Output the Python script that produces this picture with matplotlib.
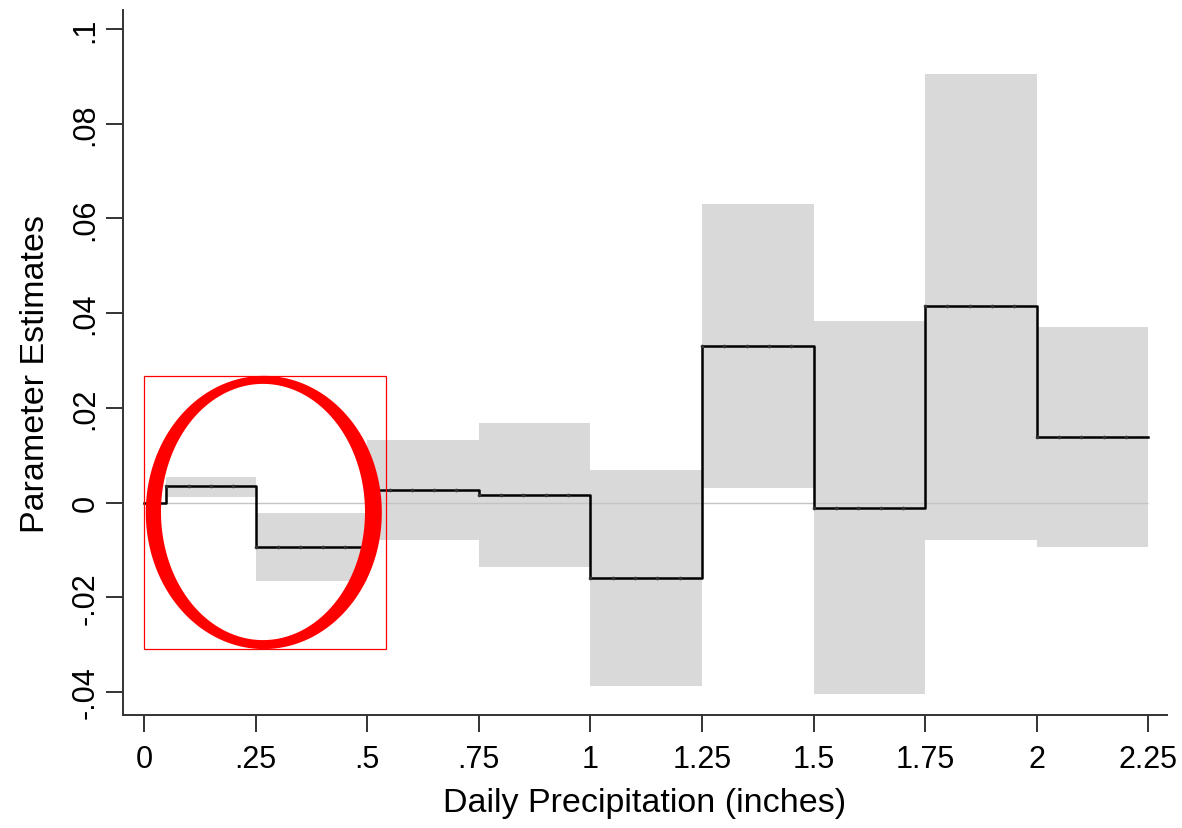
import matplotlib
matplotlib.use('Agg')
import numpy as np
import matplotlib.pyplot as plt
from matplotlib.path import Path
from matplotlib.patches import PathPatch, Rectangle

plt.rcParams['font.family'] = ['Liberation Sans', 'DejaVu Sans']

# bin edges (inches) and estimates
bin_lo = [0.05, 0.25, 0.50, 0.75, 1.00, 1.25, 1.50, 1.75, 2.00]
bin_hi = [0.25, 0.50, 0.75, 1.00, 1.25, 1.50, 1.75, 2.00, 2.25]
estimate = [0.0034, -0.0094, 0.0027, 0.0015, -0.0160, 0.0331, -0.0011, 0.0414, 0.0138]
ci_upper = [0.0053, -0.0022, 0.0132, 0.0167, 0.0068, 0.0630, 0.0384, 0.0905, 0.0371]
ci_lower = [0.0012, -0.0166, -0.0080, -0.0137, -0.0387, 0.0031, -0.0404, -0.0079, -0.0094]

xticks = [0, 0.25, 0.5, 0.75, 1, 1.25, 1.5, 1.75, 2, 2.25]
xticklabels = ['0', '.25', '.5', '.75', '1', '1.25', '1.5', '1.75', '2', '2.25']
yticks = [-0.04, -0.02, 0, 0.02, 0.04, 0.06, 0.08, 0.1]
yticklabels = ['-.04', '-.02', '0', '.02', '.04', '.06', '.08', '.1']

fig = plt.figure(figsize=(11.82, 8.29), dpi=100)
ax = fig.add_axes([0.1038, 0.1367, 0.9873 - 0.1038, 0.9867 - 0.1367])

# confidence bands
for lo, hi, l, u in zip(bin_lo, bin_hi, ci_lower, ci_upper):
    ax.fill_between([lo, hi], [l, l], [u, u], color='#d9d9d9', linewidth=0, zorder=1)

ax.hlines(0, 0, bin_hi[-1], color='#c4c4c4', linewidth=1.0, zorder=2)

# step line of estimates on a 0.05 grid, starting at zero
grid = np.round(np.arange(0, 2.2501, 0.05), 2)
vals = np.zeros_like(grid)
for lo, hi, e in zip(bin_lo, bin_hi, estimate):
    vals[(grid >= lo - 1e-9) & (grid < hi - 1e-9)] = e
vals[-1] = estimate[-1]
ax.plot(grid, vals, drawstyle='steps-post', color='black', linewidth=1.8, zorder=3)
ax.plot(grid[1:-1], vals[1:-1], linestyle='none', marker='o', markersize=1.6,
        color='#333333', zorder=4)

ax.set_xlim(-0.0477, 2.2917)
ax.set_ylim(-0.0448, 0.104)
ax.set_xticks(xticks)
ax.set_xticklabels(xticklabels)
ax.set_yticks(yticks)
ax.set_yticklabels(yticklabels, rotation=90, va='center')
ax.tick_params(axis='both', direction='out', length=12, width=1.4, color='#333333',
               labelsize=22)
ax.tick_params(axis='x', pad=9)
ax.tick_params(axis='y', pad=4)
for s in ['top', 'right']:
    ax.spines[s].set_visible(False)
for s in ['left', 'bottom']:
    ax.spines[s].set_linewidth(1.4)
    ax.spines[s].set_color('#333333')
ax.set_xlabel('Daily Precipitation (inches)', fontsize=24.5)
ax.set_ylabel('Parameter Estimates', fontsize=24.5)
ax.xaxis.set_label_coords(0.5, -0.103)
ax.yaxis.set_label_coords(-0.069, 0.485)

# red highlight box and ring
ax.add_patch(Rectangle((0.0, -0.0309), 0.542, 0.0576, fill=False, edgecolor='red',
                       linewidth=0.9, zorder=5, clip_on=False))
t = np.linspace(0, 2 * np.pi, 361)
ox, oy = 0.2684 + 0.2644 * np.cos(t), -0.0021 + 0.02885 * np.sin(t)
ix, iy = 0.2666 + 0.2285 * np.cos(t[::-1]), -0.0020 + 0.02705 * np.sin(t[::-1])
verts = np.column_stack([np.concatenate([ox, ix]), np.concatenate([oy, iy])])
codes = np.full(len(verts), Path.LINETO)
codes[0] = Path.MOVETO
codes[len(t)] = Path.MOVETO
ax.add_patch(PathPatch(Path(verts, codes), facecolor='red', edgecolor='none',
                       zorder=6, clip_on=False))

fig.savefig('out.png', dpi=100)
